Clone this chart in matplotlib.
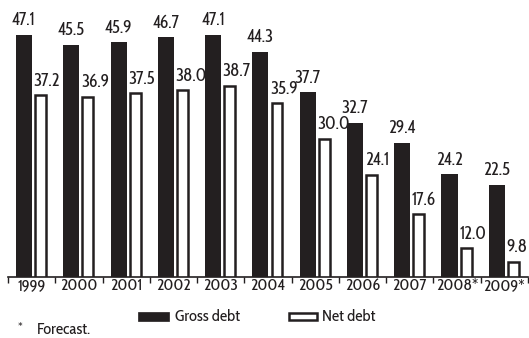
import matplotlib
matplotlib.use("Agg")
import matplotlib.pyplot as plt
import numpy as np
from matplotlib.patches import Rectangle
from matplotlib import font_manager

names = {f.name for f in font_manager.fontManager.ttflist}
FONT = "Cabin Condensed" if "Cabin Condensed" in names else "DejaVu Sans"
plt.rcParams["font.family"] = [FONT, "DejaVu Sans"]

years = ["1999", "2000", "2001", "2002", "2003", "2004", "2005", "2006", "2007", "2008*", "2009*"]
gross_debt = [47.1, 45.5, 45.9, 46.7, 47.1, 44.3, 37.7, 32.7, 29.4, 24.2, 22.5]
net_debt = [37.2, 36.9, 37.5, 38.0, 38.7, 35.9, 30.0, 24.1, 17.6, 12.0, 9.8]

INK = "#231f20"
W, H = 529, 338
fig = plt.figure(figsize=(W / 100, H / 100), dpi=100)
ax = fig.add_axes([8 / W, 61 / H, 520 / W, 277 / H])


def fig_xy(px, py):
    return px / W, 1 - py / H


x = np.arange(len(years))
gw, go = 0.34, -0.16
nw, no = 0.23, 0.19
fs_val = 12.6
fs = 11.8

ax.bar(x + go, gross_debt, width=gw, color=INK, edgecolor="none", zorder=2)
ax.bar(x + no, net_debt, width=nw, color="white", edgecolor=INK, linewidth=1.8, zorder=2)

for xi, g, n in zip(x, gross_debt, net_debt):
    ax.annotate(f"{g:.1f}", (xi + go, g), xytext=(0, 4), textcoords="offset points",
                ha="center", va="bottom", fontsize=fs_val, color=INK)
    ax.annotate(f"{n:.1f}", (xi + no - nw / 2 - 0.03, n), xytext=(0, 4), textcoords="offset points",
                ha="left", va="bottom", fontsize=fs_val, color=INK)

ax.set_xlim(-0.5, len(years) - 0.5)
ax.set_ylim(7.3, 52.85)
for s in ["top", "right", "left"]:
    ax.spines[s].set_visible(False)
ax.spines["bottom"].set_linewidth(1.2)
ax.spines["bottom"].set_color(INK)
ax.spines["bottom"].set_zorder(3)
ax.set_yticks([])
ax.set_xticks(np.arange(-0.5, len(years)))
ax.set_xticklabels([])
ax.tick_params(axis="x", which="major", length=4, width=1.0, direction="out", color=INK)
ax.set_xticks(x, minor=True)
ax.set_xticklabels(years, minor=True, fontsize=fs, color=INK)
ax.tick_params(axis="x", which="minor", length=0, pad=1)

# legend drawn in figure pixel positions
x0, y0 = fig_xy(138, 321)
fig.patches.append(Rectangle((x0, y0), 31 / W, 9 / H, transform=fig.transFigure,
                             facecolor=INK, edgecolor=INK, linewidth=0.5))
fig.text(*fig_xy(175, 317), "Gross debt", fontsize=fs, va="center", ha="left", color=INK)
x1, y1 = fig_xy(289, 320)
fig.patches.append(Rectangle((x1, y1), 28 / W, 7 / H, transform=fig.transFigure,
                             facecolor="white", edgecolor=INK, linewidth=1.8))
fig.text(*fig_xy(322, 317), "Net debt", fontsize=fs, va="center", ha="left", color=INK)

fig.text(*fig_xy(18, 331), "*", fontsize=9, va="baseline", ha="left", color=INK)
fig.text(*fig_xy(37, 334), "Forecast.", fontsize=fs, va="baseline", ha="left", color=INK)

fig.savefig("out.png", dpi=100)
